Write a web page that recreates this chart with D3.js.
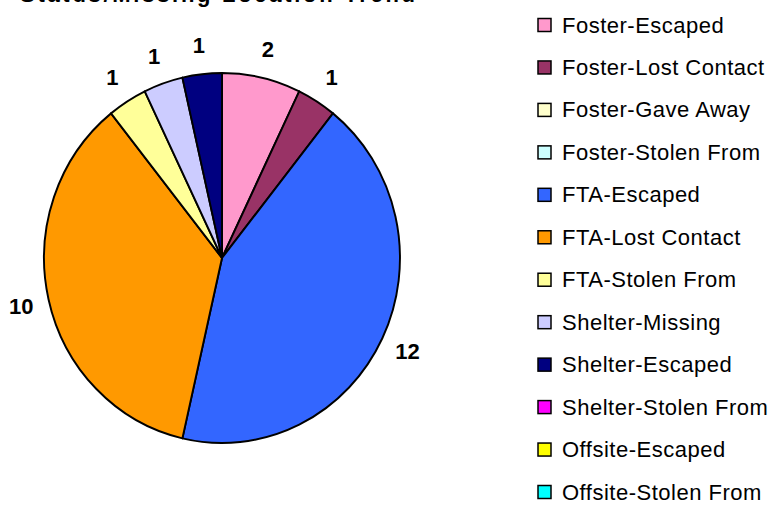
<!DOCTYPE html>
<html>
<head>
<meta charset="utf-8">
<script src="https://cdn.jsdelivr.net/npm/d3@7"></script>
<style>
  body { margin: 0; background: #fff; }
  svg { display: block; }
</style>
</head>
<body>
<div id="container"></div>
<script>
const categories = [
    'Foster-Escaped', 'Foster-Lost Contact', 'Foster-Gave Away', 'Foster-Stolen From',
    'FTA-Escaped', 'FTA-Lost Contact', 'FTA-Stolen From', 'Shelter-Missing',
    'Shelter-Escaped', 'Shelter-Stolen From', 'Offsite-Escaped', 'Offsite-Stolen From'
];
const values = [2, 1, 0, 0, 12, 10, 1, 1, 1, 0, 0, 0];
const colors = [
    '#ff99cc', '#993366', '#ffffcc', '#ccffff',
    '#3366ff', '#ff9900', '#ffff99', '#ccccff',
    '#000080', '#ff00ff', '#ffff00', '#00ffff'
];
const title = 'Status/Missing Location Trend';

const width = 770;
const height = 506;

const cx = 222;
const cy = 258;
const radius = 185;
const squash = 0.962; // pie is drawn a bit narrower than tall
const labelRadius = 214;

const data = categories.map((c, i) => ({ name: c, value: values[i], color: colors[i] }));

const svg = d3.select('#container')
    .append('svg')
    .attr('width', width)
    .attr('height', height)
    .attr('font-family', 'Arial, "Liberation Sans", sans-serif');

// title sits mostly above the top edge, only its bottom shows
svg.append('text')
    .attr('x', 20)
    .attr('y', 1.5)
    .attr('font-size', 22)
    .attr('font-weight', 'bold')
    .attr('textLength', 395)
    .attr('lengthAdjust', 'spacing')
    .text(title);

const pie = d3.pie()
    .value(d => d.value)
    .sort(null);

const arcs = pie(data);

const arc = d3.arc()
    .innerRadius(0)
    .outerRadius(radius);

const labelArc = d3.arc()
    .innerRadius(labelRadius)
    .outerRadius(labelRadius);

const pieG = svg.append('g')
    .attr('transform', `translate(${cx}, ${cy}) scale(${squash}, 1)`);

pieG.selectAll('path')
    .data(arcs.filter(d => d.data.value > 0))
    .enter()
    .append('path')
    .attr('d', arc)
    .attr('fill', d => d.data.color)
    .attr('stroke', '#000')
    .attr('stroke-width', 2)
    .attr('stroke-linejoin', 'round');

svg.append('g')
    .selectAll('text')
    .data(arcs.filter(d => d.data.value > 0))
    .enter()
    .append('text')
    .attr('x', d => cx + labelArc.centroid(d)[0] * squash)
    .attr('y', d => cy + labelArc.centroid(d)[1] + 8)
    .attr('text-anchor', 'middle')
    .attr('font-size', 22)
    .attr('font-weight', 'bold')
    .text(d => d.data.value);

// legend
const legendY = d3.scalePoint()
    .domain(categories)
    .range([25, 492]);

const legend = svg.append('g')
    .selectAll('g')
    .data(data)
    .enter()
    .append('g')
    .attr('transform', d => `translate(538, ${legendY(d.name)})`);

legend.append('rect')
    .attr('x', 0)
    .attr('y', -6.5)
    .attr('width', 13)
    .attr('height', 13)
    .attr('fill', d => d.color)
    .attr('stroke', '#000')
    .attr('stroke-width', 1.5);

legend.append('text')
    .attr('x', 24)
    .attr('y', 7.5)
    .attr('font-size', 22)
    .attr('letter-spacing', 0.5)
    .text(d => d.name);
</script>
</body>
</html>
